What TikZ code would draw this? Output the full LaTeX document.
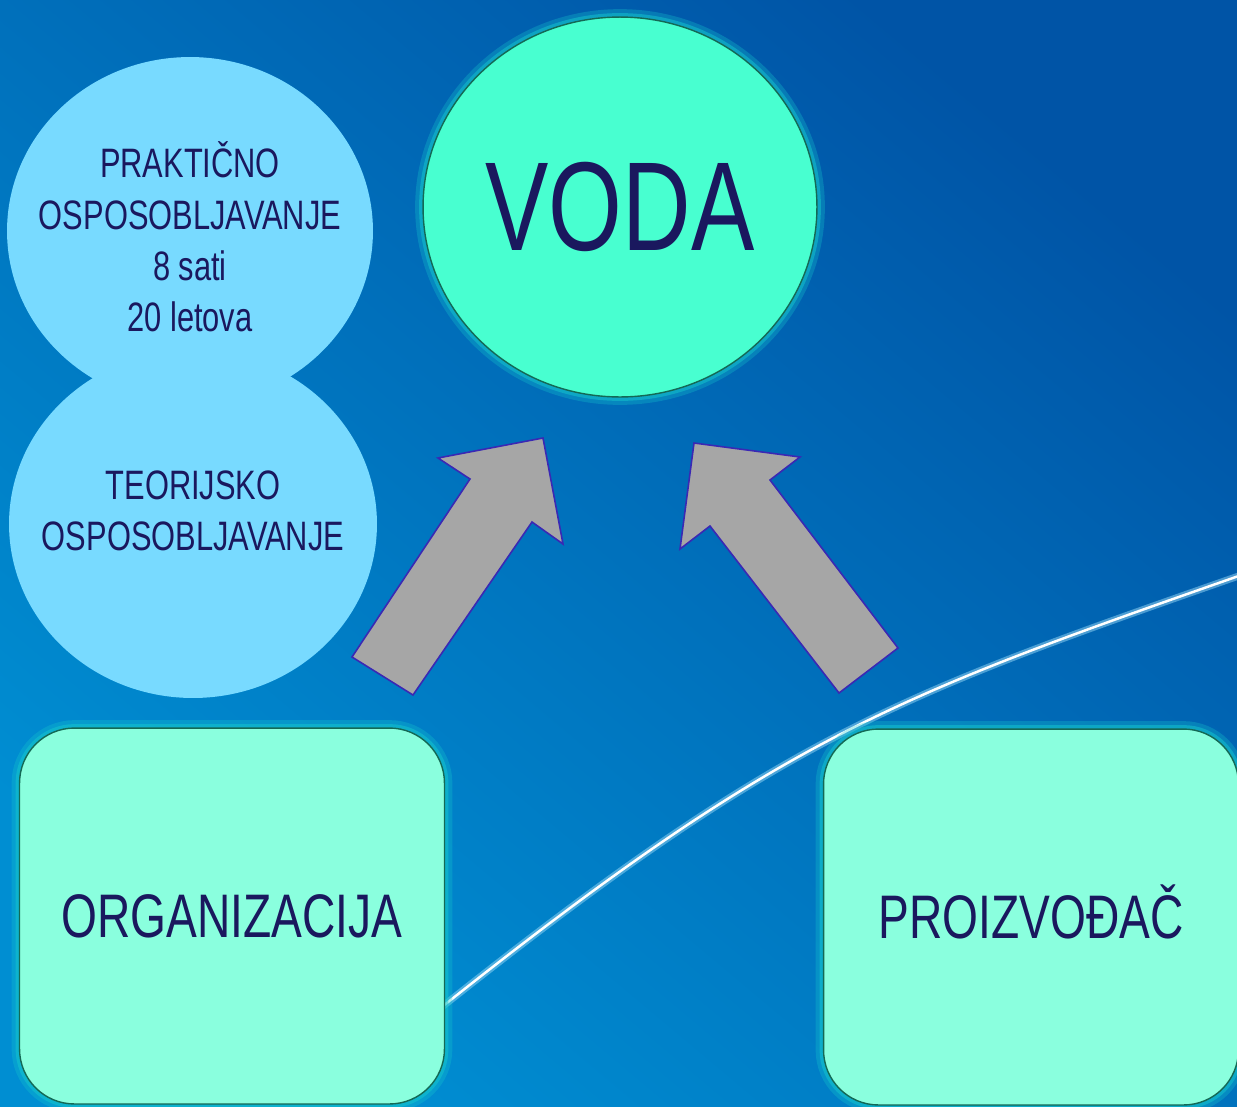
\documentclass[tikz,border=0pt]{standalone}
\usepackage{fontspec}
\setmainfont{Liberation Sans}[FakeStretch=0.75]
\usetikzlibrary{shapes.geometric}

\definecolor{bgdark}{RGB}{0,84,166}
\definecolor{bglight}{RGB}{0,142,210}
\definecolor{skyfill}{RGB}{120,218,255}
\definecolor{vodafill}{RGB}{72,255,208}
\definecolor{boxfill}{RGB}{138,255,222}
\definecolor{edgegreen}{RGB}{20,105,85}
\definecolor{glowteal}{RGB}{20,200,205}
\definecolor{navytext}{RGB}{26,24,94}
\definecolor{arrowgray}{RGB}{166,166,166}
\definecolor{arrowedge}{RGB}{58,40,180}
\definecolor{curveglow}{RGB}{150,215,245}

\tikzset{
  glow/.style={preaction={draw=glowteal,line width=9pt,opacity=.3},
               preaction={draw=glowteal,line width=4.5pt,opacity=.5}},
  skycircle/.style={ellipse,fill=skyfill,inner sep=0pt},
  skytext/.style={align=center,text=navytext,font=\fontsize{23.4}{29.3}\selectfont},
  vodacircle/.style={ellipse,glow,fill=vodafill,draw=edgegreen,line width=.8pt,
               inner sep=0pt,text=navytext,font=\fontsize{72}{80}\selectfont},
  bigbox/.style={rectangle,rounded corners=1.1cm,glow,fill=boxfill,draw=edgegreen,
               line width=.8pt,text=navytext,font=\fontsize{35}{40}\selectfont,
               text height=25pt,text depth=0pt},
  blockarrow/.style={fill=arrowgray,draw=arrowedge,line width=.9pt,line join=miter}
}

\begin{document}
\begin{tikzpicture}[x=0.02cm,y=-0.02cm]
  %% background
  \shade[top color=bgdark,bottom color=bglight,shading angle=-40] (0,0) rectangle (1237,1106);
  \useasboundingbox (0,0) rectangle (1237,1106);

  %% white curve
  \draw[curveglow,line width=4pt,opacity=.5] (423,1022) .. controls (783,734) and (890,698) .. (1250,572);
  \draw[white,line width=1.4pt] (423,1022) .. controls (783,734) and (890,698) .. (1250,572);

  %% training circles
  \node[skycircle,minimum width=7.36cm,minimum height=6.96cm] (teor) at (193,524) {};
  \node[skycircle,minimum width=7.32cm,minimum height=6.96cm] (prak) at (190,231) {};
  \node[skytext] (prakT) at (190,237) {PRAKTIČNO\\OSPOSOBLJAVANJE\\8 sati\\20 letova};
  \node[skytext] (teorT) at (193,511) {TEORIJSKO\\OSPOSOBLJAVANJE};

  %% water
  \node[vodacircle,minimum width=7.88cm,minimum height=7.6cm] (voda) at (620,207) {VODA};

  %% boxes
  \node[bigbox,minimum width=8.5cm,minimum height=7.52cm] (org) at (232,916) {ORGANIZACIJA};
  \node[bigbox,minimum width=8.3cm,minimum height=7.52cm] (proi) at (1031,917) {PROIZVOĐAČ};

  %% arrows
  \draw[blockarrow] (352,657) -- (470,479) -- (438,458) -- (543,438) -- (563,544)
    -- (532,522) -- (413,695) -- cycle;
  \draw[blockarrow] (694,443) -- (800,457) -- (770,480) -- (898,648) -- (839,693)
    -- (710,526) -- (680,549) -- cycle;
\end{tikzpicture}
\end{document}
